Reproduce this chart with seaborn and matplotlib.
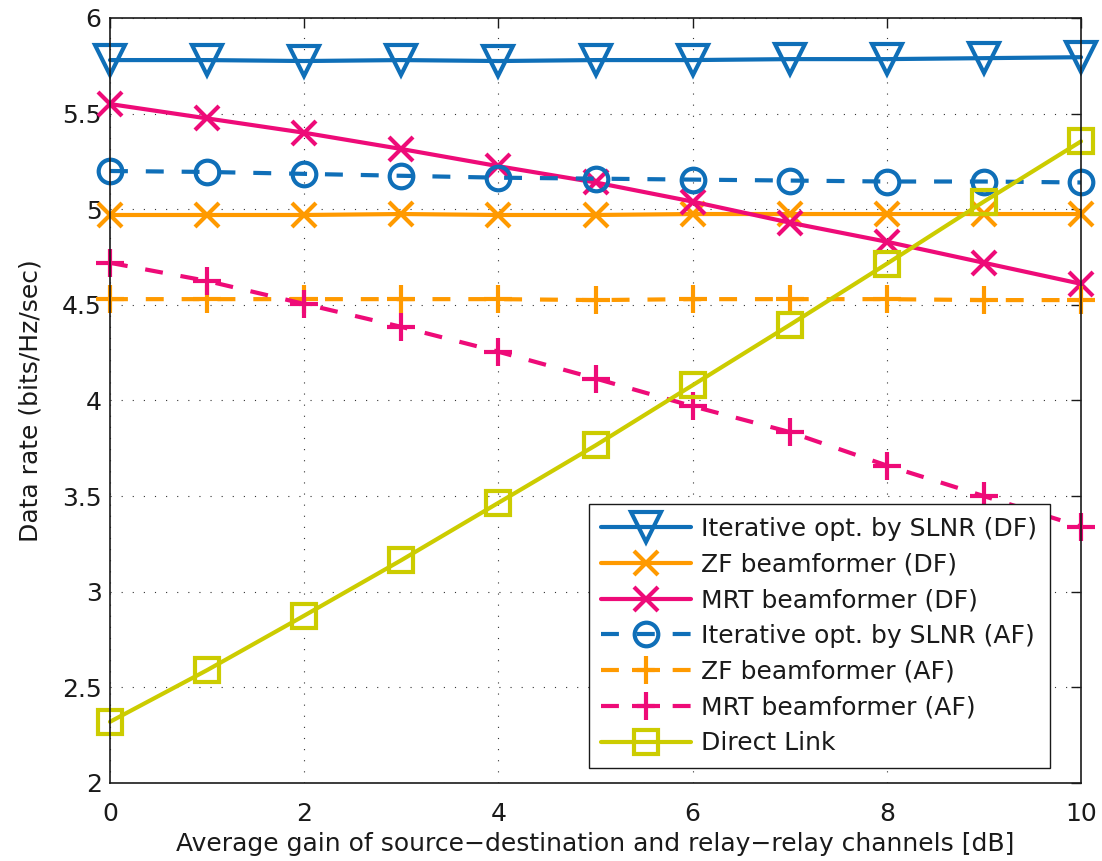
import numpy as np
import pandas as pd
import matplotlib
matplotlib.use("Agg")
import matplotlib.pyplot as plt
import seaborn as sns

x = [0, 1, 2, 3, 4, 5, 6, 7, 8, 9, 10]
slnr_df = [5.78, 5.78, 5.775, 5.78, 5.775, 5.78, 5.78, 5.785, 5.785, 5.79, 5.795]
zf_df = [4.97, 4.97, 4.97, 4.975, 4.97, 4.97, 4.975, 4.975, 4.975, 4.975, 4.975]
mrt_df = [5.55, 5.475, 5.40, 5.315, 5.225, 5.14, 5.04, 4.93, 4.83, 4.72, 4.61]
slnr_af = [5.20, 5.195, 5.185, 5.175, 5.165, 5.16, 5.155, 5.15, 5.145, 5.145, 5.14]
zf_af = [4.53, 4.53, 4.53, 4.53, 4.53, 4.525, 4.53, 4.53, 4.53, 4.525, 4.525]
mrt_af = [4.72, 4.625, 4.505, 4.385, 4.255, 4.115, 3.97, 3.835, 3.66, 3.50, 3.34]
direct = [2.32, 2.59, 2.875, 3.165, 3.465, 3.765, 4.08, 4.395, 4.715, 5.04, 5.355]

labels = ["Iterative opt. by SLNR (DF)", "ZF beamformer (DF)", "MRT beamformer (DF)",
          "Iterative opt. by SLNR (AF)", "ZF beamformer (AF)", "MRT beamformer (AF)",
          "Direct Link"]
series = [slnr_df, zf_df, mrt_df, slnr_af, zf_af, mrt_af, direct]

blue = "#0F6FB8"
orange = "#FF9A00"
pink = "#EE0B78"
olive = "#CCCC00"
dash = (0, (4.3, 4.3))
styles = [
    dict(color=blue, marker="v", ms=22, ls="-"),
    dict(color=orange, marker="x", ms=17, ls="-"),
    dict(color=pink, marker="x", ms=17, ls="-"),
    dict(color=blue, marker="o", ms=17, ls=dash),
    dict(color=orange, marker="+", ms=20, ls=dash),
    dict(color=pink, marker="+", ms=20, ls=dash),
    dict(color=olive, marker="s", ms=17, ls="-"),
]

sns.set_theme(style="white")
plt.rcParams["font.family"] = ["DejaVu Sans"]
plt.rcParams["text.color"] = "black"
plt.rcParams["axes.labelcolor"] = "black"
plt.rcParams["xtick.color"] = "black"
plt.rcParams["ytick.color"] = "black"

fig = plt.figure(figsize=(11.02, 8.61), dpi=100)
ax = fig.add_axes([0.0998, 0.0906, 0.8812, 0.8885])

for lab, vals, st in zip(labels, series, styles):
    df = pd.DataFrame({"x": x, "y": vals})
    sns.lineplot(data=df, x="x", y="y", ax=ax, color=st["color"], linestyle=st["ls"],
                 linewidth=3, marker=st["marker"], markersize=st["ms"],
                 markerfacecolor="none", markeredgecolor=st["color"], markeredgewidth=3,
                 label=lab, legend=False, clip_on=False, zorder=3)

ax.set_xlim(0, 10)
ax.set_ylim(2, 6)
ax.set_xticks([0, 2, 4, 6, 8, 10])
ax.set_yticks([2, 2.5, 3, 3.5, 4, 4.5, 5, 5.5, 6])
ax.set_yticklabels(["2", "2.5", "3", "3.5", "4", "4.5", "5", "5.5", "6"])
ax.grid(True, color="#333333", linestyle=(0, (1, 9)), linewidth=0.8)
for s in ax.spines.values():
    s.set_color("k")
    s.set_linewidth(1.2)
    s.set_zorder(4)
ax.tick_params(direction="in", length=7, width=1, top=True, right=True,
               labelsize=18, colors="k")
ax.tick_params(axis="x", pad=14)
ax.tick_params(axis="y", pad=6)
ax.set_xlabel("Average gain of source\u2212destination and relay\u2212relay channels [dB]",
              fontsize=18, color="k", labelpad=4)
ax.set_ylabel("Data rate (bits/Hz/sec)", fontsize=18, color="k", labelpad=14)

leg = ax.legend(loc="lower right", bbox_to_anchor=(0.968, 0.0196), borderaxespad=0,
                fontsize=18, handlelength=3.6, handletextpad=0.4, labelspacing=0.47,
                borderpad=0.5, frameon=True, fancybox=False, framealpha=1)
leg.get_frame().set_edgecolor("k")
leg.get_frame().set_linewidth(1.0)
leg.set_zorder(5)
for t in leg.get_texts():
    t.set_color("k")

fig.savefig("out.png", dpi=100)
